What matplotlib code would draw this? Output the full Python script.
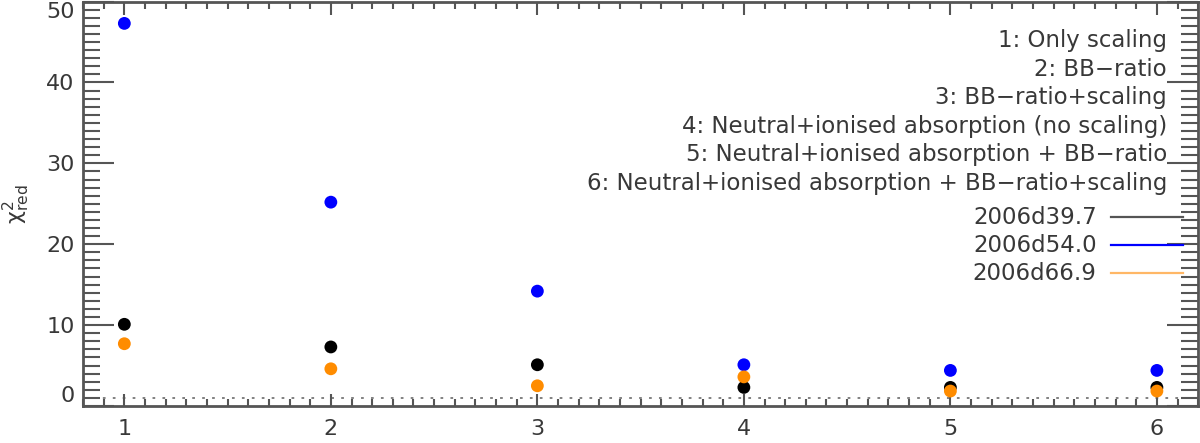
import matplotlib
matplotlib.use("Agg")
import matplotlib.pyplot as plt
from matplotlib.ticker import MultipleLocator

# ── Data ──────────────────────────────────────────────────────────────────────
models = [1, 2, 3, 4, 5, 6]
chi_d39 = [10.1, 7.3, 5.1, 2.3, 2.3, 2.3]
chi_d54 = [47.3, 25.2, 14.2, 5.1, 4.4, 4.4]
chi_d67 = [7.7, 4.6, 2.5, 3.6, 1.85, 1.85]
series_names = ["2006d39.7", "2006d54.0", "2006d66.9"]
model_descr = [
    "1: Only scaling",
    "2: BB\u2212ratio",
    "3: BB\u2212ratio+scaling",
    "4: Neutral+ionised absorption (no scaling)",
    "5: Neutral+ionised absorption + BB\u2212ratio",
    "6: Neutral+ionised absorption + BB\u2212ratio+scaling",
]

# ── Theme ─────────────────────────────────────────────────────────────────────
AX_COL = "#555555"
TXT = "#383838"
DOT_COLS = ["black", "#0000ff", "#ff8c00"]
LEG_COLS = ["#555555", "#0000ff", "#ffb766"]
FS = 16.5

fig = plt.figure(figsize=(12, 4.43), dpi=100)
ax = fig.add_axes([0.0692, 0.0835, 0.9293, 0.913])

for ys, c in zip([chi_d39, chi_d54, chi_d67], DOT_COLS):
    ax.scatter(models, ys, s=85, color=c, edgecolors="none", zorder=3)

# reduced chi2 = 1 reference
ax.axhline(1, color="#777777", ls=(0, (1.5, 4)), lw=1.3, zorder=1)

ax.set_xlim(0.8, 6.2)
ax.set_ylim(0, 50)
ax.xaxis.set_major_locator(MultipleLocator(1))
ax.xaxis.set_minor_locator(MultipleLocator(0.1))
ax.yaxis.set_major_locator(MultipleLocator(10))
ax.yaxis.set_minor_locator(MultipleLocator(1))
ax.tick_params(which="both", direction="in", top=True, right=True,
               color=AX_COL, width=1.5, labelcolor=TXT, labelsize=16)
ax.tick_params(axis="y", which="major", length=22, pad=6)
ax.tick_params(axis="y", which="minor", length=12)
ax.tick_params(axis="x", which="major", length=9, pad=9)
ax.tick_params(axis="x", which="minor", length=5)
for sp in ax.spines.values():
    sp.set_color(AX_COL)
    sp.set_linewidth(2)

ax.set_ylabel(r"$\mathregular{\chi^2_{red}}$", fontsize=16, color=TXT, labelpad=10)

# model descriptions, right aligned
for i, line in enumerate(model_descr):
    ax.text(0.972, 0.903 - i * 0.0705, line, transform=ax.transAxes,
            ha="right", va="center", fontsize=FS, color=TXT)

# series legend
for i, (name, c) in enumerate(zip(series_names, LEG_COLS)):
    yy = 0.467 - i * 0.0695
    ax.text(0.909, yy, name, transform=ax.transAxes,
            ha="right", va="center", fontsize=FS, color=TXT)
    ax.plot([0.922, 0.986], [yy, yy], transform=ax.transAxes,
            color=c, lw=1.6, clip_on=False)

# IDL-like: end labels pulled inside the axis range
fig.canvas.draw()
for t in ax.yaxis.get_major_ticks():
    if abs(t.get_loc() - 0) < 1e-9:
        t.label1.set_va("bottom")
    elif abs(t.get_loc() - 50) < 1e-9:
        t.label1.set_va("top")

fig.savefig("out.png", dpi=100)
